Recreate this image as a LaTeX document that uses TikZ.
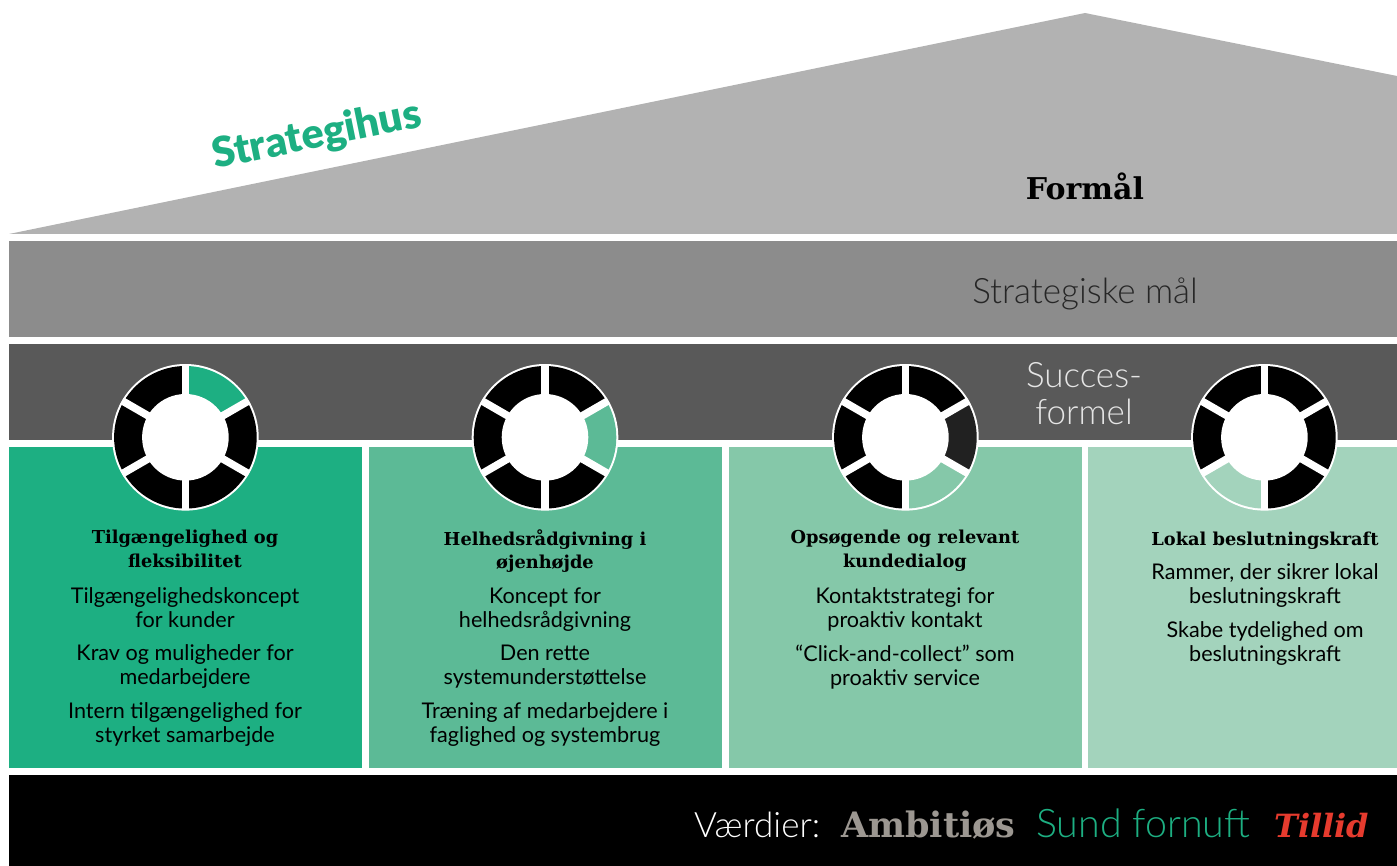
\documentclass[tikz,border=0pt]{standalone}
\usepackage{fontspec}
\setmainfont{Lato}
\newfontfamily\lightfont{Lato Light}
\newfontfamily\heavyfont{Lato Black}
\newfontfamily\slabfont{DejaVu Serif}
\usetikzlibrary{positioning}
\definecolor{roofgray}{HTML}{B2B2B2}
\definecolor{goalgray}{HTML}{8C8C8C}
\definecolor{formulagray}{HTML}{595959}
\definecolor{greenA}{HTML}{1DAF82}
\definecolor{greenB}{HTML}{5CBA96}
\definecolor{greenC}{HTML}{85C8A9}
\definecolor{greenD}{HTML}{A3D3BC}
\definecolor{valuegray}{HTML}{9C9791}
\definecolor{valuered}{HTML}{E63B2E}
\tikzset{
  band/.style={inner sep=0,outer sep=0,anchor=north west,minimum width=#1},
  pillar/.style={inner sep=0,outer sep=0,anchor=north west,minimum width=353pt,minimum height=321pt},
  head/.style={align=center,inner sep=0,font=\slabfont\bfseries\fontsize{17.8}{23.5}\selectfont,execute at begin node=\strut,execute at end node=\strut},
  entry/.style={align=center,inner sep=0,font=\fontsize{21.6}{24}\selectfont,execute at begin node=\strut,execute at end node=\strut},
}
% one wheel: centre, then the colours of the six segments clockwise from the top
\newcommand{\wheel}[7]{
  \fill[white] (#1) circle [radius=73.3];
  \foreach \a/\c [count=\i] in {-90/#2,-30/#3,30/#4,90/#5,150/#6,210/#7}
    \fill[\c] (#1) ++(\a:71.3) arc [start angle=\a,delta angle=60,radius=71.3] -- (#1) -- cycle;
  \foreach \a in {90,30,-30,-90,-150,150}
    \draw[white,line width=7.6pt] (#1) -- ++(\a:73);
  \fill[white] (#1) circle [radius=43.3];
}
\begin{document}
\begin{tikzpicture}[x=1pt,y=-1pt]
\useasboundingbox (0,0) rectangle (1397,866);
% roof and bands
\fill[roofgray] (9,234) -- (1085,13) -- (1397,76) -- (1397,234) -- cycle;
\node [band=1388pt,minimum height=96pt,fill=goalgray] (goals) at (9,241) {};
\node [band=1388pt,minimum height=96pt,fill=formulagray] (formula) at (9,344) {};
\node [pillar,fill=greenA] (p1) at (9,447) {};
\node [pillar,fill=greenB] (p2) at (369,447) {};
\node [pillar,fill=greenC] (p3) at (729,447) {};
\node [pillar,fill=greenD,minimum width=309pt] (p4) at (1088,447) {};
\node [band=1388pt,minimum height=91pt,fill=black] (values) at (9,775) {};
% titles
\node [rotate=11.5,text=greenA,inner sep=0,font=\heavyfont\fontsize{41.5}{41.5}\selectfont] (house) at (317,136) {Strategihus};
\node [font=\slabfont\bfseries\fontsize{30}{30}\selectfont] (purpose) at (1085,186) {Formål};
\node [font=\lightfont\fontsize{35}{35}\selectfont,text=black!85] (goaltext) at (1085,294) {Strategiske mål};
\node [align=center,text=white!90!black,font=\lightfont\fontsize{35}{37.5}\selectfont] (formulatext) at (1084,393.5) {Succes-\\formel};
% wheels
\wheel{185.4,437.3}{greenA}{black}{black}{black}{black}{black}
\wheel{545,437.3}{black}{greenB}{black}{black}{black}{black}
\wheel{905.4,437.3}{black}{black!87}{greenC}{black}{black}{black}
\wheel{1264.4,437.3}{black}{black}{black}{greenD}{black}{black}
% column 1
\node [head] (h1) at (185,552.5) {Tilgængelighed og\\fleksibilitet};
\node [entry] (a1) at (185,611) {Tilgængelighedskoncept\\for kunder};
\node [entry] (b1) at (185,668.5) {Krav og muligheder for\\medarbejdere};
\node [entry] (c1) at (185,726) {Intern tilgængelighed for\\styrket samarbejde};
% column 2
\node [head] (h2) at (545,552.5) {Helhedsrådgivning i\\øjenhøjde};
\node [entry] (a2) at (545,611) {Koncept for\\helhedsrådgivning};
\node [entry] (b2) at (545,668.5) {Den rette\\systemunderstøttelse};
\node [entry] (c2) at (545,726) {Træning af medarbejdere i\\faglighed og systembrug};
% column 3
\node [head] (h3) at (905,552.5) {Opsøgende og relevant\\kundedialog};
\node [entry] (a3) at (905,611) {Kontaktstrategi for\\proaktiv kontakt};
\node [entry] (b3) at (905,668.5) {“Click-and-collect” som\\proaktiv service};
% column 4
\node [head] (h4) at (1265,541) {Lokal beslutningskraft};
\node [entry] (a4) at (1265,587) {Rammer, der sikrer lokal\\beslutningskraft};
\node [entry] (b4) at (1265,645) {Skabe tydelighed om\\beslutningskraft};
% values
\node [text=white,font=\lightfont\fontsize{35}{35}\selectfont,anchor=base west,inner sep=0] (v0) at (694,837) {Værdier:};
\node [text=valuegray,font=\slabfont\bfseries\fontsize{35}{35}\selectfont,anchor=base west,inner sep=0] (v1) at (841,837) {Ambitiøs};
\node [text=greenA,font=\lightfont\fontsize{39.4}{39.4}\selectfont,anchor=base west,inner sep=0] (v2) at (1036,837) {Sund fornuft};
\node [text=valuered,font=\slabfont\bfseries\itshape\fontsize{32}{32}\selectfont,anchor=base west,inner sep=0] (v3) at (1274,837) {Tillid};
\end{tikzpicture}
\end{document}
